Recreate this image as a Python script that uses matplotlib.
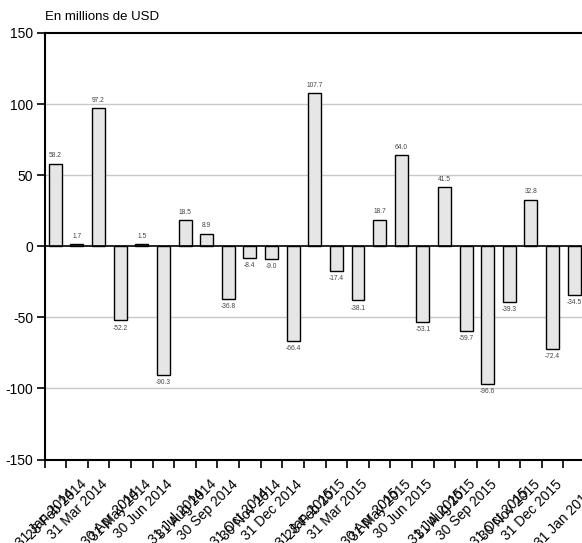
import numpy as np
import matplotlib
matplotlib.use("Agg")
import matplotlib.pyplot as plt
import matplotlib.transforms as mtransforms

# --------------------------------------------------
# data
# --------------------------------------------------
dates = ["31 Jan 2014", "28 Feb 2014", "31 Mar 2014", "30 Apr 2014", "31 May 2014",
         "30 Jun 2014", "31 Jul 2014", "31 Aug 2014", "30 Sep 2014", "31 Oct 2014",
         "30 Nov 2014", "31 Dec 2014", "31 Jan 2015", "28 Feb 2015", "31 Mar 2015",
         "30 Apr 2015", "31 May 2015", "30 Jun 2015", "31 Jul 2015", "31 Aug 2015",
         "30 Sep 2015", "31 Oct 2015", "30 Nov 2015", "31 Dec 2015", "31 Jan 2016"]
values = [58.2, 1.7, 97.2, -52.2, 1.5, -90.3, 18.5, 8.9, -36.8, -8.4,
          -9.0, -66.4, 107.7, -17.4, -38.1, 18.7, 64.0, -53.1, 41.5, -59.7,
          -96.6, -39.3, 32.8, -72.4, -34.5]
y_ticks = [150, 100, 50, 0, -50, -100, -150]
unit_label = "En millions de USD"

# --------------------------------------------------
# figure
# --------------------------------------------------
plt.rcParams["font.family"] = ["Liberation Sans", "DejaVu Sans"]

W, H = 582, 543
fig = plt.figure(figsize=(W / 100, H / 100), dpi=100)
left, right, top, bottom = 44.5, 585.0, 33.0, 459.5
ax = fig.add_axes([left / W, 1 - bottom / H, (right - left) / W, (bottom - top) / H])

x = np.arange(len(values)) + 0.5
ax.bar(x, values, width=0.6, color="#e6e6e6", edgecolor="black", linewidth=1.0, zorder=3)

# valeurs au-dessus / en dessous des barres
for xi, v in zip(x, values):
    if v >= 0:
        ax.annotate(f"{v:.1f}", (xi, v), xytext=(0, 3), textcoords="offset points",
                    ha="center", va="bottom", fontsize=4.8, color="#444444")
    else:
        ax.annotate(f"{v:.1f}", (xi, v), xytext=(0, -3), textcoords="offset points",
                    ha="center", va="top", fontsize=4.8, color="#444444")

ax.set_xlim(0, len(values))
ax.set_ylim(-150, 150)
ax.set_yticks(y_ticks)
ax.set_yticklabels([str(t) for t in y_ticks], fontsize=10)

for g in [100, 50, -50, -100]:
    ax.axhline(g, color="#c8c8c8", linewidth=1.0, zorder=1)
ax.axhline(0, color="black", linewidth=1.2, zorder=4)

# ticks aux limites des mois, étiquettes décalées (style EViews)
ax.set_xticks(np.arange(len(values)))
ax.set_xticklabels([])
blend = mtransforms.blended_transform_factory(ax.transData, ax.transAxes)
for i, lab in enumerate(dates):
    dx, dy = 18, -22.5
    if lab.split()[1] in ("Jan", "Apr", "Jul", "Oct"):
        dx, dy = dx + 10, dy - 9
    tr = blend + mtransforms.ScaledTranslation(dx / 100, dy / 100, fig.dpi_scale_trans)
    ax.text(i, 0, lab, transform=tr, rotation=45, rotation_mode="anchor",
            ha="right", va="center", fontsize=10, clip_on=False)

ax.tick_params(axis="both", direction="out", length=6, width=1.2, colors="black", pad=2)
for side in ["left", "bottom", "top"]:
    ax.spines[side].set_linewidth(1.5)
ax.spines["right"].set_visible(False)

fig.text(45 / W, 1 - 17 / H, unit_label, fontsize=9.5, ha="left", va="center")

plt.savefig("out.png", dpi=100)
